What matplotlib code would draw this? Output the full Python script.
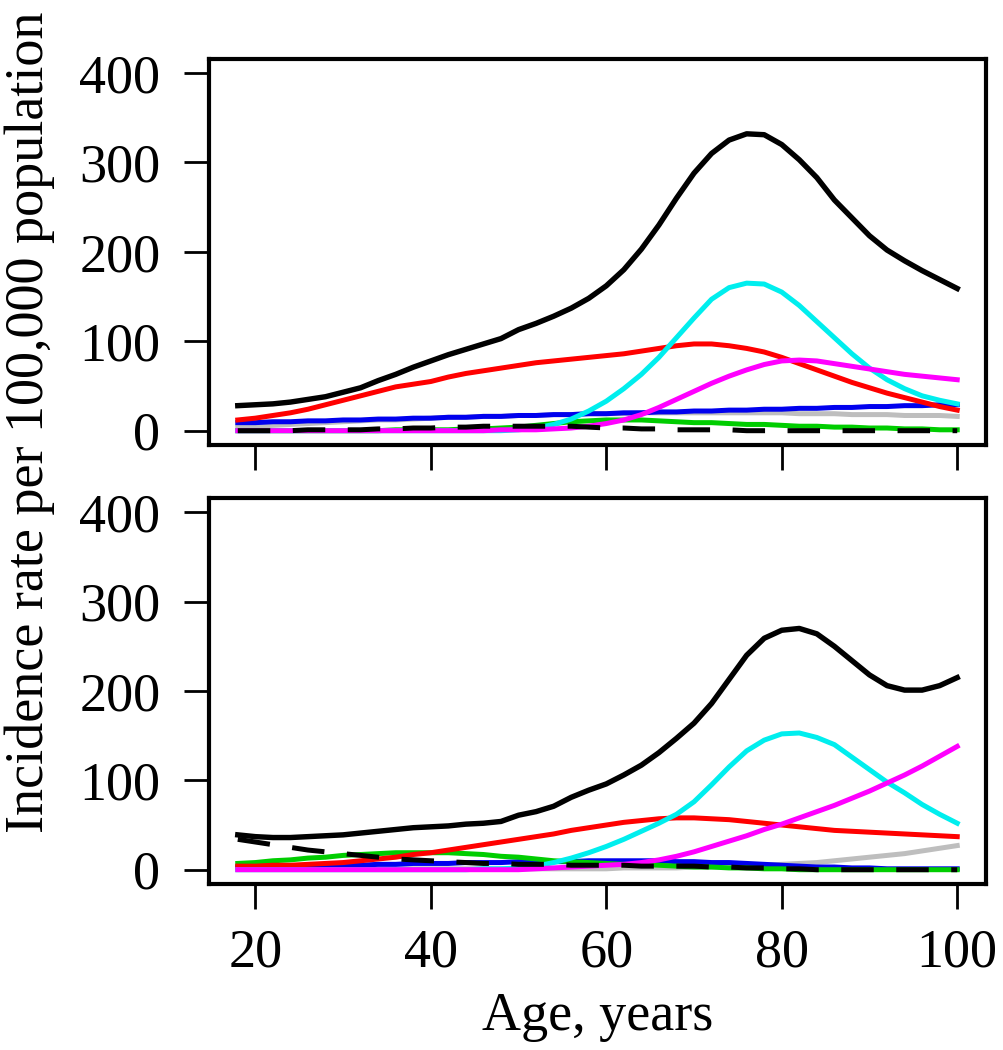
import matplotlib
matplotlib.use("Agg")
import matplotlib.pyplot as plt

ages = [18, 20, 22, 24, 26, 28, 30, 32, 34, 36, 38, 40, 42, 44, 46, 48, 50,
        52, 54, 56, 58, 60, 62, 64, 66, 68, 70, 72, 74, 76, 78, 80, 82, 84,
        86, 88, 90, 92, 94, 96, 98, 100]

# ---- top panel ----
top_total = [28, 29, 30, 32, 35, 38, 43, 48, 56, 63, 71, 78, 85, 91, 97, 103, 113,
             120, 128, 137, 148, 162, 180, 203, 230, 260, 288, 310, 325, 332, 331, 320,
             303, 283, 258, 238, 218, 202, 190, 179, 169, 159]
top_red = [12, 14, 17, 20, 24, 29, 34, 39, 44, 49, 52, 55, 60, 64, 67, 70, 73,
           76, 78, 80, 82, 84, 86, 89, 92, 95, 97, 97, 95, 92, 88, 82, 75, 68,
           61, 54, 48, 42, 37, 32, 27, 23]
top_cyan = [0, 0, 0, 0, 0, 0, 0, 0, 0, 0, 0, 0, 0, 0, 0, 0, 1,
            3, 7, 13, 22, 33, 47, 63, 82, 104, 126, 147, 160, 165, 164, 155, 140, 122,
            104, 86, 70, 57, 47, 39, 34, 30]
top_magenta = [0, 0, 0, 0, 0, 0, 0, 0, 0, 0, 0, 0, 0, 0, 0, 1, 1,
               1, 2, 3, 5, 8, 12, 18, 26, 35, 44, 53, 61, 68, 74, 78, 79, 78,
               75, 72, 69, 66, 63, 61, 59, 57]
top_blue = [9, 9, 10, 10, 11, 11, 12, 12, 13, 13, 14, 14, 15, 15, 16, 16, 17,
            17, 18, 18, 19, 19, 20, 20, 21, 21, 22, 22, 23, 23, 24, 24, 25, 25,
            26, 26, 27, 27, 28, 28, 29, 29]
top_gray = [4, 5, 6, 7, 8, 9, 10, 11, 12, 12, 13, 14, 15, 15, 16, 16, 17,
            17, 18, 18, 19, 19, 19, 20, 20, 20, 20, 20, 20, 20, 20, 20, 19, 19,
            19, 18, 18, 18, 17, 17, 17, 16]
top_green = [0, 0, 0, 0, 0, 0, 0, 0, 0, 1, 1, 1, 1, 2, 2, 3, 4,
             6, 8, 10, 11, 12, 12, 12, 11, 10, 9, 9, 8, 7, 7, 6, 5, 5,
             4, 4, 3, 3, 2, 2, 1, 1]
top_dashed = [0, 0, 0, 0, 1, 1, 1, 1, 2, 2, 3, 3, 4, 4, 5, 5, 5,
              5, 5, 5, 4, 3, 3, 2, 2, 1, 1, 1, 1, 0, 0, 0, 0, 0,
              0, 0, 0, 0, 0, 0, 0, 0]

# ---- bottom panel ----
bot_total = [39, 37, 36, 36, 37, 38, 39, 41, 43, 45, 47, 48, 49, 51, 52, 54, 61,
             65, 71, 81, 89, 96, 106, 117, 131, 147, 164, 186, 213, 240, 259, 268, 270, 264,
             250, 234, 218, 206, 201, 201, 206, 215]
bot_red = [4, 4, 5, 5, 6, 7, 8, 10, 12, 14, 17, 19, 22, 25, 28, 31, 34,
           37, 40, 44, 47, 50, 53, 55, 57, 58, 58, 57, 56, 54, 52, 50, 48, 46,
           44, 43, 42, 41, 40, 39, 38, 37]
bot_cyan = [0, 0, 0, 0, 0, 0, 0, 0, 0, 0, 0, 0, 0, 0, 1, 1, 2,
            4, 8, 13, 19, 26, 34, 43, 52, 62, 76, 95, 115, 133, 145, 152, 153, 148,
            140, 126, 112, 98, 86, 73, 62, 52]
bot_magenta = [0, 0, 0, 0, 0, 0, 0, 0, 0, 0, 0, 0, 0, 0, 0, 0, 0,
               1, 2, 3, 4, 5, 6, 8, 11, 15, 20, 26, 32, 38, 45, 51, 58, 65,
               72, 80, 88, 97, 106, 116, 127, 138]
bot_blue = [3, 3, 4, 4, 4, 5, 5, 5, 6, 6, 7, 7, 7, 8, 8, 8, 9,
            9, 9, 9, 10, 10, 10, 10, 10, 9, 9, 8, 8, 7, 6, 5, 4, 3,
            3, 2, 2, 1, 1, 1, 1, 1]
bot_gray = [1, 1, 1, 1, 1, 1, 1, 1, 1, 1, 1, 1, 1, 1, 1, 1, 1,
            1, 1, 1, 1, 1, 2, 2, 2, 2, 3, 3, 4, 4, 5, 6, 7, 8,
            10, 12, 14, 16, 18, 21, 24, 27]
bot_green = [7, 8, 10, 11, 13, 14, 16, 17, 18, 19, 19, 19, 19, 18, 17, 15, 14,
             12, 10, 9, 8, 7, 6, 6, 5, 4, 3, 3, 2, 2, 1, 1, 0, 0,
             0, 0, 0, 0, 0, 0, 0, 0]
bot_dashed = [34, 31, 28, 25, 22, 20, 18, 16, 14, 12, 11, 10, 9, 8, 7, 7, 6,
              6, 6, 5, 5, 5, 5, 4, 4, 4, 4, 3, 3, 2, 2, 1, 1, 0,
              0, 0, 0, 0, 0, 0, 0, 0]

xticks = [20, 40, 60, 80, 100]
yticks = [0, 100, 200, 300, 400]

FONT = "Liberation Serif"
FS = 39
plt.rcParams['font.family'] = [FONT, 'DejaVu Serif']

fig = plt.figure(figsize=(10.04, 10.5), dpi=100)
left_px, right_px = 209, 986
L = left_px / 1004
W = (right_px - left_px) / 1004
ax_top = fig.add_axes([L, 1 - 445 / 1050, W, (445 - 58.7) / 1050])
ax_bot = fig.add_axes([L, 1 - 884 / 1050, W, (884 - 498) / 1050])

COL = dict(black="#000000", red="#FF0000", cyan="#00EEEE", magenta="#FF00FF",
           blue="#0000EE", gray="#BEBEBE", green="#00CD00")
LW = 3.6


def draw(ax, total, red, cyan, magenta, blue, gray, green, dashed):
    ax.plot(ages, gray, color=COL["gray"], lw=LW, solid_joinstyle='round')
    ax.plot(ages, blue, color=COL["blue"], lw=LW, solid_joinstyle='round')
    ax.plot(ages, green, color=COL["green"], lw=LW, solid_joinstyle='round')
    ax.plot(ages, red, color=COL["red"], lw=LW, solid_joinstyle='round')
    ax.plot(ages, cyan, color=COL["cyan"], lw=LW, solid_joinstyle='round')
    ax.plot(ages, magenta, color=COL["magenta"], lw=LW, solid_joinstyle='round')
    ax.plot(ages, dashed, color=COL["black"], lw=LW, dashes=(6.5, 4.5))
    ax.plot(ages, total, color=COL["black"], lw=LW + 0.3, solid_joinstyle='round')
    ax.set_xlim(14.72, 103.28)
    ax.set_ylim(-16, 416)
    ax.set_xticks(xticks)
    ax.set_yticks(yticks)
    for s in ax.spines.values():
        s.set_linewidth(3)
    ax.tick_params(axis='both', direction='out', length=18, width=2,
                   labelsize=FS)
    ax.tick_params(axis='y', pad=17)
    ax.tick_params(axis='x', pad=14)
    for lab in ax.get_xticklabels() + ax.get_yticklabels():
        lab.set_fontfamily(FONT)


draw(ax_top, top_total, top_red, top_cyan, top_magenta, top_blue, top_gray,
     top_green, top_dashed)
ax_top.set_xticklabels([])
draw(ax_bot, bot_total, bot_red, bot_cyan, bot_magenta, bot_blue, bot_gray,
     bot_green, bot_dashed)

fig.text(L + W / 2, 1 - 1030 / 1050, "Age, years", ha='center', va='baseline',
         fontsize=FS, family=FONT)
fig.text(30 / 1004, 1 - 422 / 1050, "Incidence rate per 100,000 population",
         rotation=90, ha='center', va='center', fontsize=FS, family=FONT)

fig.savefig("out.png", dpi=100)
